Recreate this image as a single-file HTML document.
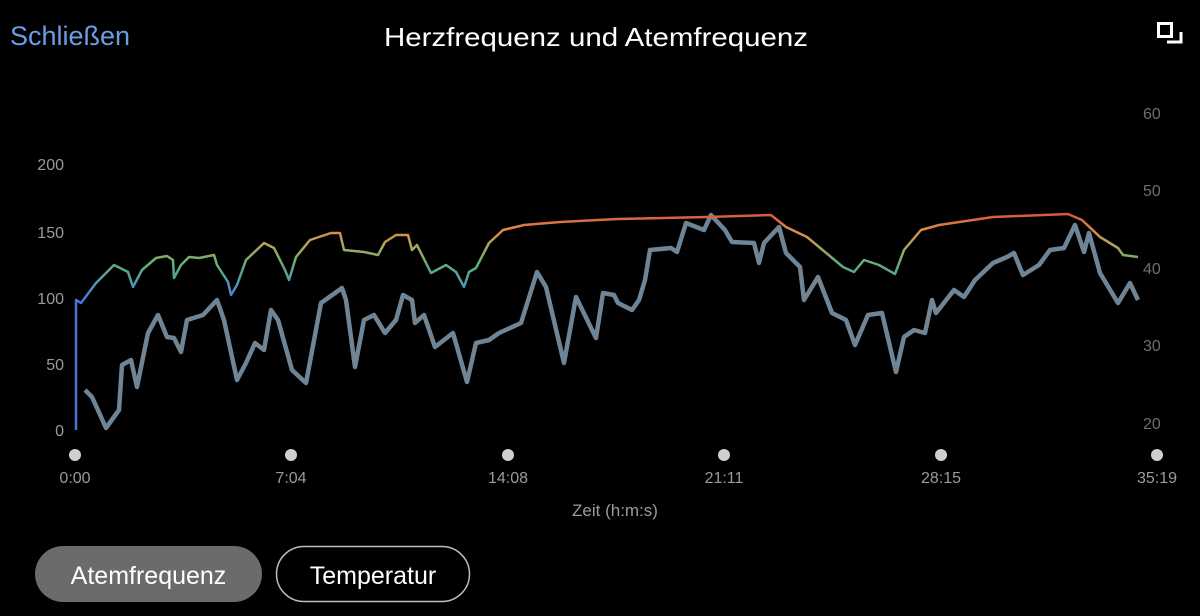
<!DOCTYPE html>
<html><head><meta charset="utf-8"><style>
html,body{margin:0;padding:0;background:#000;width:1200px;height:616px;overflow:hidden;font-family:"Liberation Sans",sans-serif}
</style></head><body>
<svg width="1200" height="616" viewBox="0 0 1200 616" xmlns="http://www.w3.org/2000/svg" style="position:absolute;left:0;top:0">
<defs>
<linearGradient id="hr" gradientUnits="userSpaceOnUse" x1="0" y1="300" x2="0" y2="212">
<stop offset="0" stop-color="#4a72d8"/>
<stop offset="0.2" stop-color="#4f9ab0"/>
<stop offset="0.4" stop-color="#5fae78"/>
<stop offset="0.6" stop-color="#a6a85a"/>
<stop offset="0.8" stop-color="#d98c4a"/>
<stop offset="1" stop-color="#d9503a"/>
</linearGradient>
</defs>
<text x="10" y="45" font-size="27" fill="#6a9fe8">Schließen</text>
<text x="596" y="46" font-size="26" fill="#fff" text-anchor="middle" textLength="424" lengthAdjust="spacingAndGlyphs">Herzfrequenz und Atemfrequenz</text>
<rect x="1158.5" y="23.5" width="13" height="13" fill="none" stroke="#fff" stroke-width="3"/>
<polyline points="1167,42 1181,42 1181,32" fill="none" stroke="#fff" stroke-width="3"/>
<g font-size="16" fill="#9a9a9a" text-anchor="end">
<text x="64" y="170">200</text><text x="64" y="238">150</text><text x="64" y="304">100</text><text x="64" y="370">50</text><text x="64" y="436">0</text>
</g>
<g font-size="16" fill="#6e6e6e">
<text x="1143" y="119">60</text><text x="1143" y="196">50</text><text x="1143" y="274">40</text><text x="1143" y="351">30</text><text x="1143" y="429">20</text>
</g>
<g fill="#cfcfcf">
<circle cx="75" cy="455" r="6"/><circle cx="291" cy="455" r="6"/><circle cx="508" cy="455" r="6"/><circle cx="724" cy="455" r="6"/><circle cx="941" cy="455" r="6"/><circle cx="1157" cy="455" r="6"/>
</g>
<g font-size="16" fill="#9a9a9a" text-anchor="middle">
<text x="75" y="483">0:00</text><text x="291" y="483">7:04</text><text x="508" y="483">14:08</text><text x="724" y="483">21:11</text><text x="941" y="483">28:15</text><text x="1157" y="483">35:19</text>
<text x="615" y="516" font-size="17">Zeit (h:m:s)</text>
</g>
<polyline fill="none" stroke="#6f8494" stroke-width="4.5" stroke-linejoin="round" points="85,390 92,397 106,428 119,410 122,365 131,360 137,387 148,333 158,315 167,337 174,338 181,352 187,320 203,315 217,300 224,320 237,380 246,363 255,343 264,350 271,310 278,320 292,370 306,383 321,303 342,288 346,300 355,367 364,320 374,315 385,333 396,320 403,295 412,300 415,323 424,315 435,347 453,333 467,382 476,343 489,340 499,333 521,323 537,272 546,287 564,363 576,297 596,338 603,293 614,295 618,303 632,310 639,300 645,280 650,250 671,248 677,252 686,223 704,230 711,215 725,230 732,242 754,243 759,263 764,243 779,227 786,253 800,267 804,300 818,277 832,313 846,320 855,345 868,315 882,313 896,372 904,337 914,330 925,333 932,300 936,313 954,290 964,297 975,280 993,263 1007,257 1014,253 1023,275 1039,265 1050,250 1064,248 1075,225 1084,252 1089,233 1100,273 1118,303 1130,283 1138,300"/>
<polyline fill="none" stroke="url(#hr)" stroke-width="2.5" stroke-linejoin="round" points="76,430 76,300 81,303 96,283 114,265 128,272 133,287 142,270 156,258 167,256 173,260 174,278 181,265 189,257 199,258 214,255 217,265 228,282 231,295 237,285 246,260 264,243 274,248 285,270 289,280 296,257 310,240 331,233 340,233 344,250 364,252 378,255 385,242 396,235 408,235 412,250 417,245 431,273 446,265 456,272 464,287 469,272 476,268 489,243 503,230 524,225 560,222 617,219 707,217 771,215 786,227 807,237 843,267 854,272 864,260 879,265 895,274 904,250 921,230 939,225 993,217 1068,214 1082,220 1100,237 1118,248 1123,255 1138,257"/>
<rect x="35" y="546" width="227" height="56" rx="28" fill="#6b6b6b"/>
<text x="148.5" y="584" font-size="25" fill="#fff" text-anchor="middle">Atemfrequenz</text>
<rect x="276.5" y="546.5" width="193" height="55" rx="27.5" fill="none" stroke="#bdbdbd" stroke-width="1.5"/>
<text x="373" y="584" font-size="25" fill="#fff" text-anchor="middle">Temperatur</text>
</svg>
</body></html>
